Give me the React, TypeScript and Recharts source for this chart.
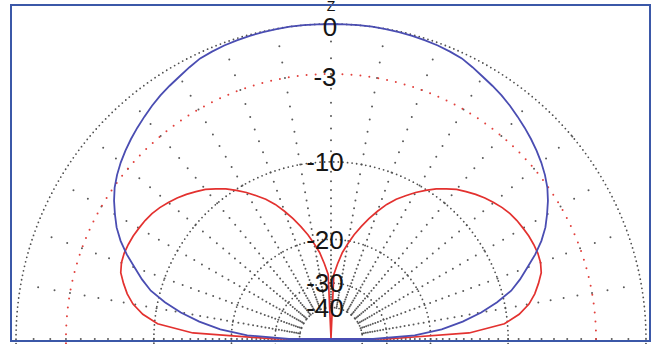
import { RadarChart, Radar, PolarGrid, PolarAngleAxis, PolarRadiusAxis } from 'recharts';

// angle from the Z axis (deg), left side negative
const angles = [
  -90, -87.5, -85, -82.5, -80, -77.5, -75, -72.5, -70, -67.5, -65, -62.5, -60, -57.5, -55, -52.5, -50, -47.5,
  -45, -42.5, -40, -37.5, -35, -32.5, -30, -27.5, -25, -22.5, -20, -17.5, -15, -12.5, -10, -7.5, -5, -2.5,
  0,
  2.5, 5, 7.5, 10, 12.5, 15, 17.5, 20, 22.5, 25, 27.5, 30, 32.5, 35, 37.5, 40, 42.5, 45,
  47.5, 50, 52.5, 55, 57.5, 60, 62.5, 65, 67.5, 70, 72.5, 75, 77.5, 80, 82.5, 85, 87.5, 90,
];

// blue pattern, dB
const blueDb = [
  -35, -23, -18.1, -15.0, -12.6, -10.7, -9.1, -8.05, -7.13, -6.15, -5.3, -4.6, -4.05, -3.52, -3.06, -2.7, -2.39, -2.12,
  -1.87, -1.64, -1.42, -1.2, -1.0, -0.83, -0.67, -0.48, -0.3, -0.22, -0.15, -0.1, -0.06, -0.04, -0.02, 0, 0, 0,
  0,
  0, 0, 0, -0.02, -0.04, -0.06, -0.1, -0.15, -0.22, -0.3, -0.48, -0.67, -0.83, -1.0, -1.2, -1.42, -1.64, -1.87,
  -2.12, -2.39, -2.7, -3.06, -3.52, -4.05, -4.6, -5.3, -6.15, -7.13, -8.05, -9.1, -10.7, -12.6, -15.0, -18.1, -23, -35,
];

// red pattern, dB
const redDb = [
  -30, -14.3, -10.3, -8.8, -7.8, -7.15, -6.65, -6.2, -6.0, -5.93, -5.95, -6.0, -6.1, -6.2, -6.35, -6.57, -6.85, -7.15,
  -7.5, -7.9, -8.3, -8.85, -9.4, -10.1, -10.8, -11.6, -12.4, -13.4, -14.6, -15.9, -17.3, -18.8, -20.5, -22.3, -24.8, -27.5,
  -100,
  -27.5, -24.8, -22.3, -20.5, -18.8, -17.3, -15.9, -14.6, -13.4, -12.4, -11.6, -10.8, -10.1, -9.4, -8.85, -8.3, -7.9, -7.5,
  -7.15, -6.85, -6.57, -6.35, -6.2, -6.1, -6.0, -5.95, -5.93, -6.0, -6.2, -6.65, -7.15, -7.8, -8.8, -10.3, -14.3, -30,
];

const dbTicks = [0, -3, -10, -20, -30, -40];
const blackRings = [0, -10, -20, -30, -40];
const redRings = [-3];
const spokeAngles = [-90, -80, -70, -60, -50, -40, -30, -20, -10, 0, 10, 20, 30, 40, 50, 60, 70, 80, 90];

const W = 657;
const H = 344;
const CX = 331;
const CY = 339;
const R = 315;

// radius scale of the plot: r ~ 10^(dB/40)
const amp = (db: number) => Math.pow(10, db / 40);

const data = angles.map((angle, i) => ({ angle, blue: blueDb[i], red: redDb[i] }));

// spoke dots sit on every whole dB
const spokeDash = (() => {
  const pos: number[] = [];
  for (let d = -40; d <= 0; d++) pos.push(R * amp(d));
  const arr: number[] = [0, pos[0]];
  for (let i = 1; i < pos.length; i++) arr.push(0, pos[i] - pos[i - 1]);
  return arr.map((v) => v.toFixed(2)).join(' ');
})();

const toChartAngle = (a: number) => 90 - a;

function DbTick(props: any) {
  const { x, y, payload } = props;
  const db = Math.round(40 * Math.log10(payload.value));
  // the top two labels sit a little below their ring
  const shift = db > -5 ? 3 : 0;
  return (
    <text
      x={db < 0 ? x - 6 : x - 1}
      y={y + shift}
      dy="0.36em"
      textAnchor="middle"
      fontSize={26}
      fontFamily="'Liberation Sans', Arial, sans-serif"
      fill="#151515"
    >
      {db}
    </text>
  );
}

export default function App() {
  return (
    <div style={{ position: 'absolute', left: 0, top: 0, width: W, height: H, background: '#fff', overflow: 'hidden' }}>
      <div
        style={{
          position: 'absolute',
          left: CX - 10,
          top: 0,
          width: 20,
          textAlign: 'center',
          fontFamily: "'Liberation Sans', Arial, sans-serif",
          fontSize: 14,
          lineHeight: '13px',
          color: '#151515',
        }}
      >
        Z
      </div>
      <div style={{ position: 'absolute', left: 0, top: 0 }}>
        <RadarChart
          width={W}
          height={H}
          data={data}
          cx={CX}
          cy={CY}
          outerRadius={R}
          startAngle={180}
          endAngle={0}
          margin={{ top: 0, right: 0, bottom: 0, left: 0 }}
        >
          <PolarGrid
            gridType="circle"
            polarRadius={[]}
            polarAngles={spokeAngles.map(toChartAngle)}
            stroke="#5a5a5a"
            strokeWidth={2}
            strokeLinecap="round"
            strokeDasharray={spokeDash}
          />
          <PolarGrid
            gridType="circle"
            radialLines={false}
            polarAngles={[]}
            polarRadius={blackRings.map((d) => R * amp(d))}
            stroke="#505050"
            strokeWidth={1.8}
            strokeLinecap="round"
            strokeDasharray="0 4.6"
          />
          <PolarGrid
            gridType="circle"
            radialLines={false}
            polarAngles={[]}
            polarRadius={redRings.map((d) => R * amp(d))}
            stroke="#e2403c"
            strokeWidth={2}
            strokeLinecap="round"
            strokeDasharray="0 9"
          />
          <PolarAngleAxis dataKey="angle" type="number" domain={[-90, 90]} tick={false} axisLine={false} tickLine={false} />
          <Radar
            dataKey={(d: any) => amp(d.red)}
            stroke="#e3312f"
            strokeWidth={1.7}
            fill="none"
            fillOpacity={0}
            dot={false}
            isAnimationActive={false}
          />
          <Radar
            dataKey={(d: any) => amp(d.blue)}
            stroke="#4a4db2"
            strokeWidth={1.8}
            fill="none"
            fillOpacity={0}
            dot={false}
            isAnimationActive={false}
          />
          <PolarRadiusAxis
            angle={90}
            type="number"
            domain={[0, 1]}
            ticks={dbTicks.map(amp) as any}
            tick={DbTick}
            axisLine={false}
            tickLine={false}
          />
        </RadarChart>
      </div>
      <div
        style={{
          position: 'absolute',
          left: 10,
          top: 4,
          width: 641,
          height: 338,
          boxSizing: 'border-box',
          border: '2.5px solid #3b58a8',
          pointerEvents: 'none',
        }}
      />
    </div>
  );
}
